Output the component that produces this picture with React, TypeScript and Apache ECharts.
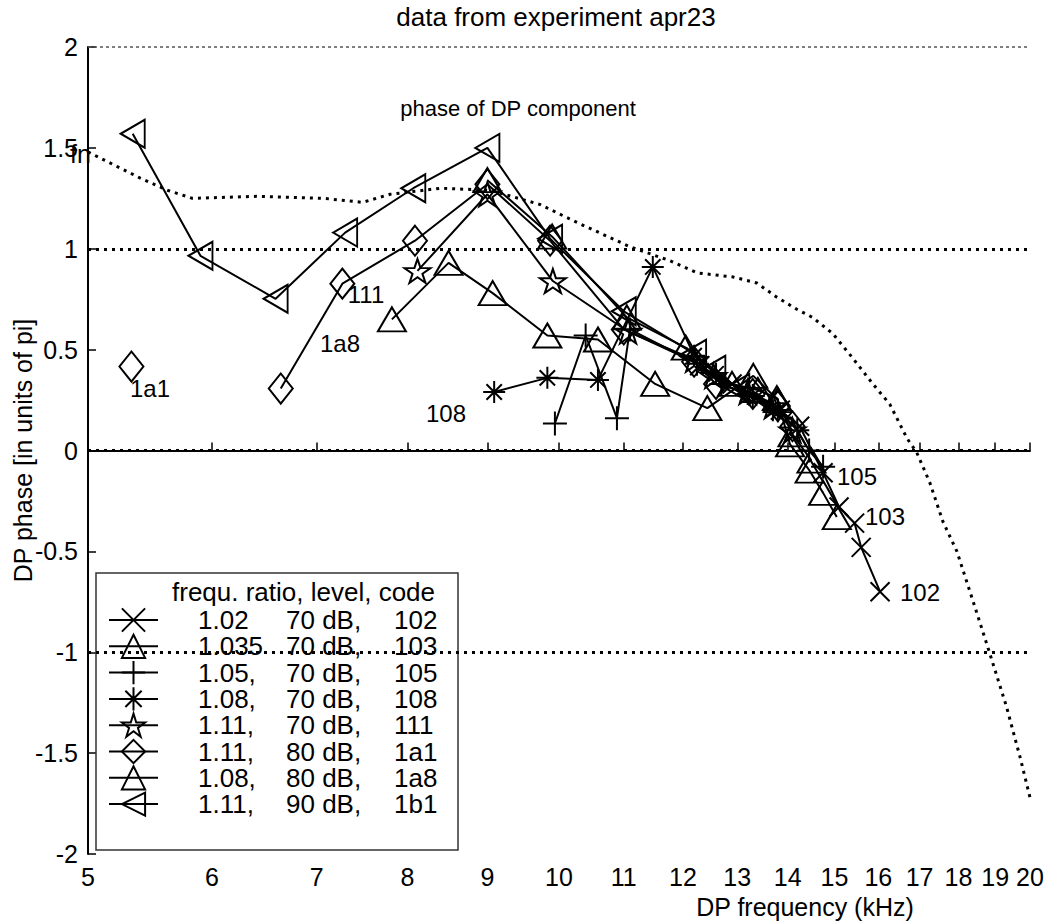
import React, { useEffect, useRef } from 'react';
import * as echarts from 'echarts';

const FONT = "'Liberation Sans', Arial, Helvetica, sans-serif";

// x tick labels (log axis, kHz)
const xTicks = [5, 6, 7, 8, 9, 10, 11, 12, 13, 14, 15, 16, 17, 18, 19, 20];
const yMin = -2;
const yMax = 2;
const yStep = 0.5;
const boldGridLevels = [1, 0, -1];
const thinGridLevels = [2];

// dotted curve: phase of DP component
const dpFreq = [5.0, 5.4, 5.62, 5.83, 6.41, 7.07, 7.49, 7.8, 8.4, 9.03, 9.72, 10.27, 11.1, 11.78, 12.26, 12.92, 13.38, 13.78, 14.19, 14.52, 14.96, 15.4, 15.87, 16.27, 16.69, 16.93, 17.26, 17.59, 17.96, 18.38, 18.84, 19.32, 19.71, 20.0];
const dpPhase = [1.48, 1.35, 1.29, 1.25, 1.26, 1.25, 1.23, 1.27, 1.30, 1.29, 1.22, 1.13, 1.01, 0.94, 0.88, 0.86, 0.83, 0.76, 0.70, 0.66, 0.58, 0.46, 0.33, 0.23, 0.06, -0.01, -0.16, -0.35, -0.50, -0.74, -1.00, -1.27, -1.52, -1.72];

// legend columns
const codes = ['102', '103', '105', '108', '111', '1a1', '1a8', '1b1'];
const ratios = ['1.02', '1.035', '1.05,', '1.08,', '1.11,', '1.11,', '1.08,', '1.11,'];
const levels = ['70 dB,', '70 dB,', '70 dB,', '70 dB,', '70 dB,', '80 dB,', '80 dB,', '90 dB,'];

// measured series (frequency kHz, phase in units of pi)
const f102 = [12.3, 12.9, 13.4, 13.85, 14.25, 14.75, 15.1, 15.45, 15.6, 16.04];
const p102 = [0.42, 0.33, 0.27, 0.20, 0.12, -0.11, -0.28, -0.36, -0.48, -0.70];

const f103 = [9.0, 9.9, 11.05, 12.05, 12.9, 13.4, 13.78, 14.05, 14.46, 14.75, 15.05];
const p103 = [1.34, 1.06, 0.66, 0.51, 0.33, 0.30, 0.26, 0.03, -0.10, -0.21, -0.33];

const f105 = [9.94, 10.40, 10.89, 11.1, 12.25, 12.7, 13.3, 13.8, 14.2, 14.45, 14.75];
const p105 = [0.134, 0.57, 0.16, 0.60, 0.43, 0.33, 0.27, 0.20, 0.10, 0.0, -0.08];

const f108 = [9.09, 9.83, 10.59, 11.48, 12.2, 12.6, 13.2, 13.7];
const p108 = [0.29, 0.36, 0.35, 0.91, 0.47, 0.38, 0.28, 0.20];

const f111 = [8.12, 9.0, 9.91, 11.07, 12.2, 12.55, 13.2, 13.7, 14.1];
const p111 = [0.89, 1.27, 0.84, 0.59, 0.45, 0.37, 0.29, 0.22, 0.10];

// 1a1: first point stands alone (gap after it)
const f1a1 = [5.33, NaN, 6.64, 7.27, 8.09, 9.0, 9.87, 11.0, 12.2, 12.6, 13.3, 13.8, 14.1];
const p1a1 = [0.416, NaN, 0.307, 0.827, 1.04, 1.32, 1.04, 0.60, 0.44, 0.33, 0.28, 0.22, 0.12];

const f1a8 = [7.82, 8.5, 9.07, 9.83, 10.59, 11.52, 12.44, 13.31, 13.8, 14.1, 14.5];
const p1a8 = [0.65, 0.93, 0.78, 0.57, 0.55, 0.33, 0.21, 0.37, 0.25, 0.08, -0.05];

const f1b1 = [5.34, 5.90, 6.59, 7.30, 8.07, 9.0, 9.87, 11.0, 12.2, 12.55, 13.0];
const p1b1 = [1.57, 0.965, 0.752, 1.08, 1.30, 1.50, 1.05, 0.69, 0.48, 0.40, 0.31];

const SYM_X = 'path://M0,0L10,10M10,0L0,10';
const SYM_PLUS = 'path://M5,0L5,10M0,5L10,5';
const SYM_AST = 'path://M5,0L5,10M0,5L10,5M1.5,1.5L8.5,8.5M8.5,1.5L1.5,8.5';
const SYM_STAR = 'path://M10,0L12.245,6.91L19.51,6.91L13.63,11.18L15.88,18.09L10,13.82L4.12,18.09L6.37,11.18L0.49,6.91L7.755,6.91Z';
const SYM_LTRI = 'path://M0,5L10,0L10,10Z';

const seriesDefs = [
  { code: '102', freq: f102, phase: p102, symbol: SYM_X, size: 19 },
  { code: '103', freq: f103, phase: p103, symbol: 'triangle', size: [28, 24] },
  { code: '105', freq: f105, phase: p105, symbol: SYM_PLUS, size: 24 },
  { code: '108', freq: f108, phase: p108, symbol: SYM_AST, size: 22 },
  { code: '111', freq: f111, phase: p111, symbol: SYM_STAR, size: [26, 24] },
  { code: '1a1', freq: f1a1, phase: p1a1, symbol: 'diamond', size: [24, 30] },
  { code: '1a8', freq: f1a8, phase: p1a8, symbol: 'triangle', size: [28, 24] },
  { code: '1b1', freq: f1b1, phase: p1b1, symbol: SYM_LTRI, size: [24, 28] },
];

const annotations = [
  { text: '1a1', x: 150, y: 388 },
  { text: '1a8', x: 340, y: 343 },
  { text: '111', x: 366, y: 294 },
  { text: '108', x: 446, y: 413 },
  { text: '105', x: 857, y: 476 },
  { text: '103', x: 885, y: 516 },
  { text: '102', x: 920, y: 592 },
];

function txt(text: string, x: number, y: number, size: number, align = 'center') {
  return {
    type: 'text',
    x,
    y,
    silent: true,
    z: 10,
    style: {
      text,
      fill: '#000',
      fontSize: size,
      fontFamily: FONT,
      align,
      verticalAlign: 'middle',
      textAlign: align,
      textVerticalAlign: 'middle',
    },
  };
}

export default function App() {
  const ref = useRef<HTMLDivElement>(null);

  useEffect(() => {
    if (!ref.current) return;
    const chart = echarts.init(ref.current, undefined, { renderer: 'svg' });

    const dataSeries = seriesDefs.map((d) => ({
      name: d.code,
      type: 'line',
      data: d.freq.map((f, i) => (Number.isNaN(f) ? ['-', '-'] : [f, d.phase[i]])),
      connectNulls: false,
      symbol: d.symbol,
      symbolSize: d.size,
      showSymbol: true,
      lineStyle: { color: '#000', width: 2 },
      itemStyle: { color: 'transparent', borderColor: '#000', borderWidth: 2 },
      emphasis: { disabled: true },
      z: 3,
    }));

    const option: any = {
      animation: false,
      backgroundColor: '#fff',
      textStyle: { fontFamily: FONT },
      grid: { left: 88, right: 20, top: 47, bottom: 68, containLabel: false, outerBoundsMode: 'none' },
      xAxis: {
        type: 'log',
        logBase: 10,
        min: 5,
        max: 20,
        name: 'DP frequency (kHz)',
        nameLocation: 'middle',
        nameGap: 40,
        nameMoveOverlap: false,
        nameTextStyle: { color: '#000', fontSize: 25, fontFamily: FONT, padding: [0, 0, 0, 492] },
        axisLine: { show: true, lineStyle: { color: '#000', width: 2 } },
        axisTick: { show: true, inside: true, length: 8, customValues: xTicks, lineStyle: { color: '#000', width: 1.5 } },
        axisLabel: {
          show: true,
          customValues: xTicks,
          color: '#000',
          fontSize: 25,
          fontFamily: FONT,
          margin: 10,
          formatter: (v: number) => String(Math.round(v)),
        },
        splitLine: { show: false },
        minorTick: { show: false },
        minorSplitLine: { show: false },
      },
      yAxis: {
        type: 'value',
        min: yMin,
        max: yMax,
        interval: yStep,
        name: 'DP phase [in units of pi]',
        nameLocation: 'middle',
        nameGap: 53,
        nameRotate: 90,
        nameMoveOverlap: false,
        nameTextStyle: { color: '#000', fontSize: 25, fontFamily: FONT },
        axisLine: { show: true, lineStyle: { color: '#000', width: 2 } },
        axisTick: { show: true, inside: true, length: 8, lineStyle: { color: '#000', width: 1.5 } },
        axisLabel: { color: '#000', fontSize: 25, fontFamily: FONT, margin: 10, formatter: (v: number) => String(v) },
        splitLine: { show: false },
      },
      legend: {
        show: true,
        orient: 'vertical',
        left: 108,
        top: 607,
        padding: 0,
        itemWidth: 49,
        itemHeight: 29,
        itemGap: 0.3,
        selectedMode: false,
        data: codes,
        formatter: (name: string) => {
          const i = codes.indexOf(name);
          return `{s| }{a|${ratios[i]}}{b|${levels[i]}}{c|${codes[i]}}`;
        },
        textStyle: {
          color: '#000',
          fontSize: 26,
          fontFamily: FONT,
          rich: {
            s: { width: 35, fontSize: 26, lineHeight: 29, align: 'left' },
            a: { width: 88, fontSize: 26, lineHeight: 29, fontFamily: FONT, color: '#000', align: 'left' },
            b: { width: 108, fontSize: 26, lineHeight: 29, fontFamily: FONT, color: '#000', align: 'left' },
            c: { fontSize: 26, lineHeight: 29, fontFamily: FONT, color: '#000', align: 'left' },
          },
        },
      },
      graphic: [
        txt('data from experiment apr23', 556, 17, 26),
        txt('phase of DP component', 518, 108, 22),
        txt('fn', 70, 154, 25, 'left'),
        ...annotations.map((a) => txt(a.text, a.x, a.y, 24)),
        {
          type: 'rect',
          silent: true,
          z: 1,
          shape: { x: 96, y: 573, width: 362, height: 277 },
          style: { fill: 'none', stroke: '#333', lineWidth: 1.5 },
        },
        txt('frequ. ratio, level, code', 172, 592, 26, 'left'),
      ],
      series: [
        {
          name: 'phase of DP component',
          type: 'line',
          data: dpFreq.map((f, i) => [f, dpPhase[i]]),
          symbol: 'none',
          lineStyle: { color: '#000', width: 3, type: [3, 5], cap: 'butt' },
          emphasis: { disabled: true },
          z: 2,
          markLine: {
            silent: true,
            symbol: 'none',
            label: { show: false },
            animation: false,
            data: [
              ...boldGridLevels.map((v) => ({ yAxis: v, lineStyle: { color: '#000', width: 3, type: [3, 5], cap: 'butt' } })),
              ...thinGridLevels.map((v) => ({ yAxis: v, lineStyle: { color: '#555', width: 1.5, type: [3, 3] } })),
            ],
          },
        },
        ...dataSeries,
      ],
    };

    chart.setOption(option);
    return () => chart.dispose();
  }, []);

  return (
    <div
      ref={ref}
      style={{ position: 'absolute', left: 0, top: 0, width: '1050px', height: '922px', background: '#fff' }}
    />
  );
}
